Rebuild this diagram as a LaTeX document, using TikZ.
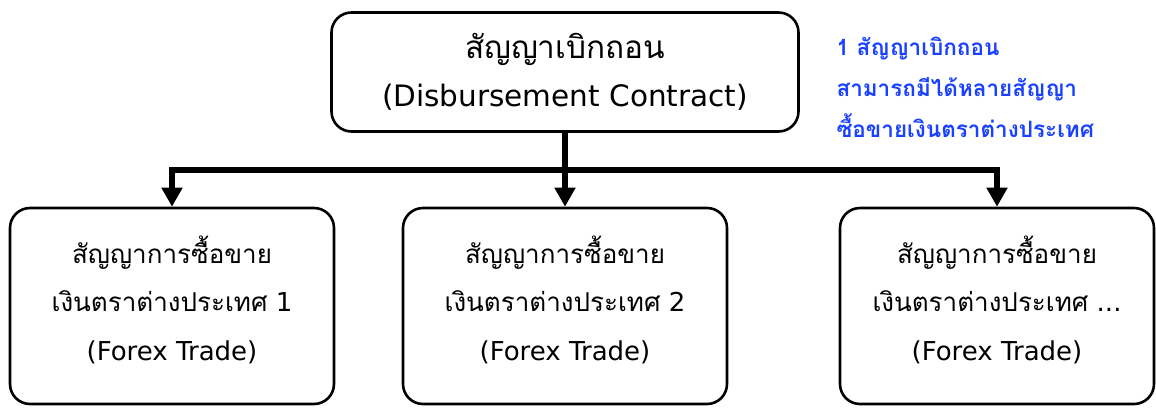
\documentclass[tikz,border=0pt]{standalone}
\usepackage{fontspec}
\setmainfont{DejaVu Sans}
\newfontfamily\thaifont[Script=Thai]{Loma}
\usetikzlibrary{arrows.meta}

\begin{document}
\begin{tikzpicture}[x=1pt, y=1pt, >={Triangle[length=19pt, width=20pt]},
  contract/.style={draw, line width=2.6pt, rounded corners=20pt, align=center},
  trade/.style={contract, minimum width=324pt, minimum height=196pt,
    font=\fontsize{26}{48.5}\selectfont},
  link/.style={line width=6pt},
  note/.style={align=left, text=noteblue, font=\thaifont\bfseries\fontsize{22.5}{41}\selectfont}]

  \definecolor{noteblue}{RGB}{25,65,255}
  \useasboundingbox (0,0) rectangle (1156,-407);

  \node[contract, minimum width=467pt, minimum height=119pt,
    font=\fontsize{29.5}{48}\selectfont] (top) at (565,-72)
    {{\thaifont\fontsize{31.5}{48}\selectfont สัญญาเบิกถอน}\\(Disbursement Contract)};
  \node[note, anchor=west] (info) at (833,-87)
    {1 สัญญาเบิกถอน\\สามารถมีได้หลายสัญญา\\ซื้อขายเงินตราต่างประเทศ};

  \node[trade] (trade1) at (172,-306)
    {{\thaifont สัญญาการซื้อขาย}\\{\thaifont เงินตราต่างประเทศ} 1\\(Forex Trade)\rule[-16pt]{0pt}{16pt}};
  \node[trade] (trade2) at (565,-306)
    {{\thaifont สัญญาการซื้อขาย}\\{\thaifont เงินตราต่างประเทศ} 2\\(Forex Trade)\rule[-16pt]{0pt}{16pt}};
  \node[trade, minimum width=314pt] (trade3) at (997,-306)
    {{\thaifont สัญญาการซื้อขาย}\\{\thaifont เงินตราต่างประเทศ} ...\\(Forex Trade)\rule[-16pt]{0pt}{16pt}};

  \coordinate (hub) at (565,-170);

  \draw[link, line cap=rect] (trade1.north |- hub) -- (trade3.north |- hub);
  \draw[link] (top) -- (hub);
  \foreach \t in {trade1, trade2, trade3}
    \draw[link, ->] (\t.north |- hub) -- (\t);

\end{tikzpicture}
\end{document}
